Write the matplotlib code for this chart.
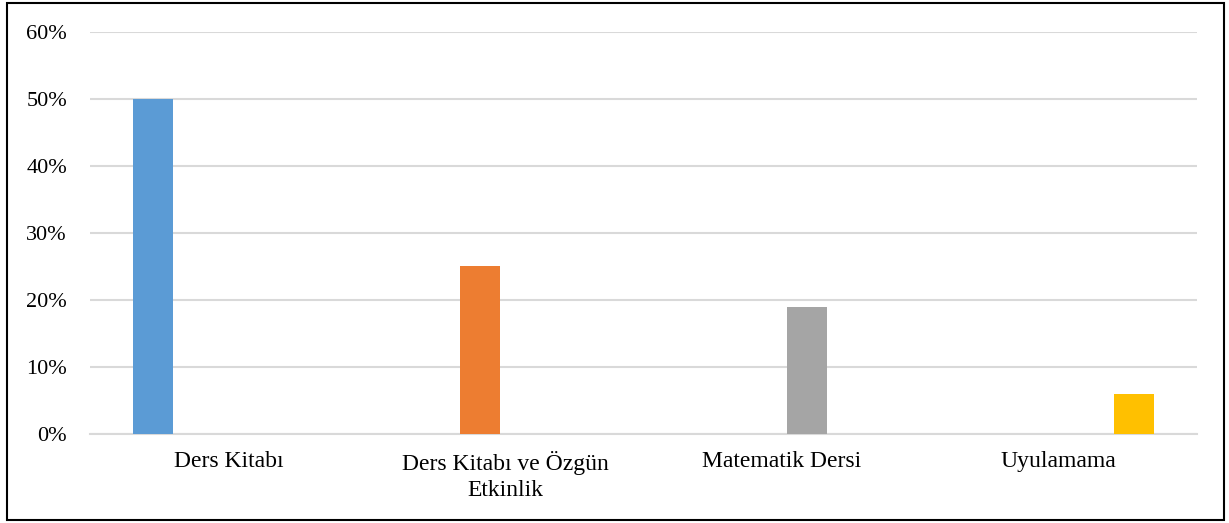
import matplotlib
matplotlib.use("Agg")
import matplotlib.pyplot as plt
from matplotlib.patches import Rectangle
from matplotlib.ticker import FuncFormatter
import numpy as np

categories = ["Ders Kitabı", "Ders Kitabı ve Özgün\nEtkinlik", "Matematik Dersi", "Uyulamama"]
values = [0.50, 0.25, 0.19, 0.06]
colors = ["#5B9BD5", "#ED7D31", "#A5A5A5", "#FFC000"]
yticks = [0, 0.1, 0.2, 0.3, 0.4, 0.5, 0.6]

plt.rcParams['font.family'] = ['Liberation Serif', 'DejaVu Serif']

fig = plt.figure(figsize=(12.29, 5.23), dpi=100)
ax = fig.add_axes([0.0732, 0.1702, 0.9008, 0.7686])

x = np.arange(len(categories))
step = 50 / 276.75
width = 40 / 276.75
n = len(values)
for i, (v, c) in enumerate(zip(values, colors)):
    ax.bar(x[i] + (i - (n - 1) / 2) * step, v, width=width, color=c, zorder=3)

ax.set_xlim(-0.5, len(categories) - 0.5)
ax.set_ylim(0, 0.6)
ax.set_yticks(yticks)
ax.yaxis.set_major_formatter(FuncFormatter(lambda v, p: f"{v*100:.0f}%"))
ax.set_xticks(x)
ax.set_xticklabels(categories, fontsize=17, linespacing=1.32)
ax.tick_params(axis='y', length=0, pad=16.5, labelsize=16)
ax.tick_params(axis='x', length=0, pad=12)
ax.grid(axis='y', color='#d9d9d9', linewidth=1.5, zorder=0)
for s in ['top', 'right', 'left']:
    ax.spines[s].set_visible(False)
ax.spines['bottom'].set_color('#d9d9d9')
ax.spines['bottom'].set_linewidth(1.5)

fig.patches.append(Rectangle((0.0057, 0.0057), 0.99, 0.988, transform=fig.transFigure,
                             fill=False, edgecolor='black', linewidth=1.5))

fig.savefig("out.png", dpi=100)
